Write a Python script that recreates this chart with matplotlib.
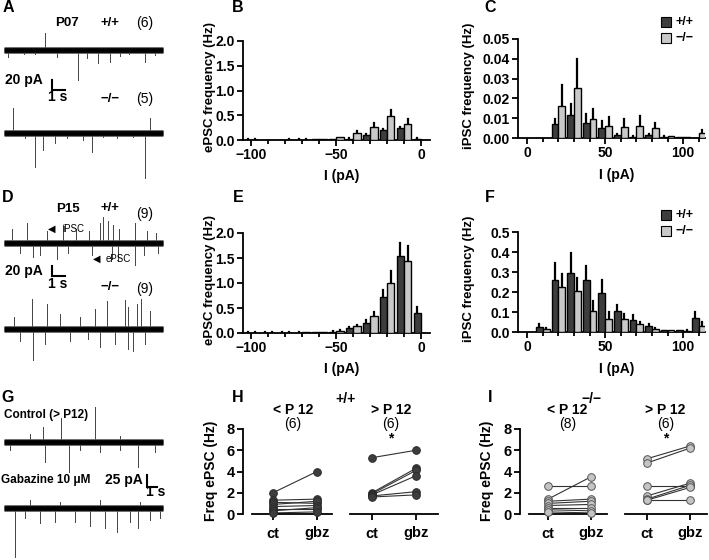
import matplotlib
matplotlib.use("Agg")
import matplotlib.pyplot as plt
from matplotlib.ticker import MultipleLocator

plt.rcParams['font.family'] = ['Liberation Sans', 'DejaVu Sans']
plt.rcParams['font.weight'] = 'bold'
plt.rcParams['axes.linewidth'] = 1.3

# ---------------- data ----------------
# ePSC amplitude bins (pA), +/+ bar at c-2.5, -/- bar at c+2.5
epsc_bins = [-100, -90, -80, -70, -60, -50, -40, -30, -20, -10, 0]
p07_wt = [0.01, 0.005, 0.005, 0.01, 0.015, 0.02, 0.03, 0.10, 0.20, 0.25, 0.03]
p07_wt_top = [0.015, 0.01, 0.01, 0.015, 0.02, 0.025, 0.04, 0.12, 0.23, 0.27, 0.04]
p07_ko = [0.01, 0.005, 0.01, 0.01, 0.02, 0.055, 0.135, 0.27, 0.485, 0.32, 0.0]
p07_ko_top = [0.015, 0.01, 0.015, 0.015, 0.025, 0.07, 0.175, 0.34, 0.60, 0.43, 0.0]

p15_wt = [0.01, 0.01, 0.01, 0.01, 0.02, 0.03, 0.10, 0.21, 0.72, 1.54, 0.40]
p15_wt_top = [0.015, 0.015, 0.015, 0.015, 0.025, 0.04, 0.12, 0.27, 0.87, 1.80, 0.52]
p15_ko = [0.01, 0.01, 0.01, 0.015, 0.025, 0.05, 0.14, 0.34, 1.00, 1.45, 0.0]
p15_ko_top = [0.015, 0.015, 0.015, 0.02, 0.03, 0.065, 0.17, 0.43, 1.25, 1.75, 0.0]

# iPSC amplitude bins (pA)
ipsc_bins = [10, 20, 30, 40, 50, 60, 70, 80, 90, 100, 110]
ip07_wt = [0.0, 0.007, 0.0115, 0.0075, 0.005, 0.0015, 0.0005, 0.0015, 0.0005, 0.0003, 0.0]
ip07_wt_top = [0.0, 0.0098, 0.017, 0.012, 0.0085, 0.002, 0.0008, 0.002, 0.0008, 0.0005, 0.0]
ip07_ko = [0.0, 0.016, 0.0255, 0.0095, 0.006, 0.0055, 0.006, 0.005, 0.0008, 0.0003, 0.0025]
ip07_ko_top = [0.0, 0.027, 0.040, 0.0145, 0.0105, 0.0095, 0.011, 0.0078, 0.0012, 0.0005, 0.004]

ip15_wt = [0.025, 0.262, 0.295, 0.262, 0.195, 0.105, 0.062, 0.032, 0.008, 0.008, 0.068]
ip15_wt_top = [0.038, 0.345, 0.395, 0.332, 0.258, 0.137, 0.083, 0.04, 0.012, 0.012, 0.10]
ip15_ko = [0.015, 0.225, 0.203, 0.107, 0.065, 0.065, 0.04, 0.015, 0.008, 0.006, 0.032]
ip15_ko_top = [0.02, 0.29, 0.27, 0.153, 0.098, 0.09, 0.052, 0.02, 0.01, 0.008, 0.052]

# paired ct / gbz frequencies (Hz)
h_young_ct = [2.0, 1.3, 1.1, 0.9, 0.7, 0.5, 0.3, 0.1]
h_young_gbz = [4.0, 1.4, 1.0, 1.2, 0.8, 0.5, 0.6, 0.2]
h_old_ct = [5.3, 2.0, 1.9, 1.8, 1.7, 1.6]
h_old_gbz = [6.0, 4.3, 4.1, 3.6, 2.1, 1.8]
i_young_ct = [2.6, 1.4, 1.2, 1.0, 0.8, 0.6, 0.4, 0.2]
i_young_gbz = [2.6, 3.5, 1.4, 1.2, 0.9, 0.6, 0.3, 0.1]
i_old_ct = [5.2, 4.8, 2.6, 1.7, 1.4, 1.3, 1.3]
i_old_gbz = [6.4, 6.2, 2.6, 2.9, 2.7, 2.5, 1.3]

# example traces: event times (s) and amplitudes (pA)
a_wt_t = [0.3, 3.15, 4.08, 5.7, 6.4, 7.23, 8.15, 8.92, 10.85, 11.6, 1.5, 2.4, 9.6]
a_wt_amp = [-14, 34, -14, -60, -16, -26, -24, -12, -24, -10, -8, -8, -8]
a_ko_t = [0.69, 2.38, 3.0, 3.92, 6.08, 6.77, 10.85, 11.23, 1.62, 4.85, 8.69, 7.6, 9.9]
a_ko_amp = [50, -68, -34, -20, -14, -38, -90, 30, -10, -10, -10, -8, -8]
d_wt_t = [0.62, 1.77, 3.31, 4.54, 5.54, 6.54, 7.38, 7.62, 8.0, 8.38, 8.85, 10.08, 11.0, 11.69,
          1.23, 2.23, 2.77, 4.08, 4.92, 6.77, 8.31, 8.77, 10.08, 10.77, 11.85]
d_wt_amp = [28, 40, 24, 36, 28, 24, 40, 52, 44, 36, 28, 40, 24, 20,
            -20, -28, -24, -32, -20, -24, -32, -36, -44, -24, -20]
d_ko_t = [0.77, 2.15, 3.31, 4.31, 5.85, 7.0, 7.92, 9.31, 9.54, 10.23, 10.54, 11.23,
          1.23, 2.23, 3.15, 5.08, 6.46, 7.38, 8.54, 9.54, 9.92, 10.85]
d_ko_amp = [24, 60, 50, 30, 24, 40, 56, 58, 44, 50, 60, 36,
            -24, -62, -30, -24, -20, -36, -30, -40, -44, -30]
g_ct_t = [4.2, 6.13, 9.78, 2.8, 12.5, 0.65, 4.41, 6.99, 10.32, 14.41, 16.24, 8.17, 12.47]
g_ct_amp = [30, 48, 70, 16, 12, -16, -40, -60, -20, -50, -20, -16, -16]
g_gbz_t = [1.18, 2.26, 3.87, 5.48, 7.63, 9.25, 10.86, 12.15, 13.55, 14.41, 15.7, 16.77,
           2.8, 6.02, 10.32, 14.62]
g_gbz_amp = [-98, -20, -30, -28, -28, -36, -40, -48, -28, -40, -24, -20,
             16, 12, 16, 12]

W, H = 709, 560
fig = plt.figure(figsize=(7.09, 5.6), dpi=100)
DARK = '#3d3d3d'
LIGHT = '#c9c9c9'


def box(l, t, r, b):
    return fig.add_axes([l / W, 1 - b / H, (r - l) / W, (b - t) / H])


def txt(x, y, s, size=9.5, weight='bold', **kw):
    kw.setdefault('ha', 'center')
    kw.setdefault('va', 'center')
    fig.text(x / W, 1 - y / H, s, fontsize=size, fontweight=weight, **kw)


def style(ax, size=10):
    for s in ['top', 'right']:
        ax.spines[s].set_visible(False)
    ax.tick_params(direction='out', length=4, width=1.3, labelsize=size, pad=2)
    ax.tick_params(which='minor', direction='out', length=3, width=1.3)
    for lab in ax.get_xticklabels() + ax.get_yticklabels():
        lab.set_fontweight('bold')


def bars(ax, bins, wt, wt_top, ko, ko_top):
    xd = [c - 2.2 for c in bins]
    xl = [c + 2.2 for c in bins]
    ax.bar(xd, wt, width=4.3, color=DARK, edgecolor='black', linewidth=1.0, zorder=3)
    ax.bar(xl, ko, width=4.3, color=LIGHT, edgecolor='black', linewidth=1.0, zorder=3)
    for x, v, t in zip(xd, wt, wt_top):
        if t > v:
            ax.plot([x, x], [v, t], color='black', lw=1.6, zorder=2)
    for x, v, t in zip(xl, ko, ko_top):
        if t > v:
            ax.plot([x, x], [v, t], color='black', lw=1.6, zorder=2)


# ---------------- B / E : ePSC histograms ----------------
for top, bot, wt, wtt, ko, kot in [(41, 140, p07_wt, p07_wt_top, p07_ko, p07_ko_top),
                                   (233, 333, p15_wt, p15_wt_top, p15_ko, p15_ko_top)]:
    ax = box(243, top, 430, bot)
    bars(ax, epsc_bins, wt, wtt, ko, kot)
    ax.set_xlim(-105, 5.3)
    ax.set_ylim(0, 2.0)
    ax.set_yticks([0, 0.5, 1.0, 1.5, 2.0])
    ax.set_yticklabels(['0.0', '0.5', '1.0', '1.5', '2.0'])
    ax.set_xticks([-100, -50, 0])
    ax.set_xticklabels(['\u2212100', '\u221250', '0'])
    ax.xaxis.set_minor_locator(MultipleLocator(10))
    style(ax)
    txt(210, (top + bot) / 2 - 3, 'ePSC frequency (Hz)', rotation=90)
    txt(342, bot + 36, 'I (pA)', size=10)

# ---------------- C / F : iPSC histograms ----------------
for top, bot, wt, wtt, ko, kot, ymax, ticks, tl in [
        (39, 138, ip07_wt, ip07_wt_top, ip07_ko, ip07_ko_top, 0.05,
         [0, 0.01, 0.02, 0.03, 0.04, 0.05], ['0.00', '0.01', '0.02', '0.03', '0.04', '0.05']),
        (232, 332, ip15_wt, ip15_wt_top, ip15_ko, ip15_ko_top, 0.5,
         [0, 0.1, 0.2, 0.3, 0.4, 0.5], ['0.0', '0.1', '0.2', '0.3', '0.4', '0.5'])]:
    ax = box(518, top, 705, bot)
    bars(ax, ipsc_bins, wt, wtt, ko, kot)
    ax.set_xlim(-5.9, 114)
    ax.set_ylim(0, ymax)
    ax.set_yticks(ticks)
    ax.set_yticklabels(tl)
    ax.set_xticks([0, 50, 100])
    ax.xaxis.set_minor_locator(MultipleLocator(10))
    style(ax)
    txt(469, (top + bot) / 2 - 3, 'iPSC frequency (Hz)', rotation=90)
    txt(617, bot + 37, 'I (pA)', size=10)
    ly = top - 17
    for k, (col, lab) in enumerate([(DARK, '+/+'), (LIGHT, '\u2212/\u2212')]):
        y = ly + k * 16
        fig.patches.append(plt.Rectangle((661 / W, 1 - (y + 5) / H), 10 / W, 10 / H,
                                         facecolor=col, edgecolor='black', lw=0.8,
                                         transform=fig.transFigure, figure=fig))
        txt(676, y, lab, size=9, ha='left')

# ---------------- H / I : paired plots ----------------
panels = [
    (243, 332, 273, 317, 350, 438, 372, 416, h_young_ct, h_young_gbz, h_old_ct, h_old_gbz,
     '#3d3d3d', '#2a2a2a', 211, '+/+', 346, '(6)', '(6)'),
    (520, 607, 548, 591, 625, 707, 647, 690, i_young_ct, i_young_gbz, i_old_ct, i_old_gbz,
     '#c4c4c4', '#555555', 487, '\u2212/\u2212', 592, '(8)', '(6)'),
]
for (yl, xr1, ct1, gb1, xl2, xr2, ct2, gb2, yct, ygb, oct_, ogb,
     fc, ec, ylx, geno, gx, n1, n2) in panels:
    pxu = gb1 - ct1
    ax1 = box(yl, 429, xr1, 514)
    ax1.set_xlim(-(ct1 - yl) / pxu, 1 + (xr1 - gb1) / pxu)
    ax1.spines['bottom'].set_bounds(-(ct1 - yl - 9) / pxu, 1 + (xr1 - gb1) / pxu)
    ax1.spines['left'].set_bounds(0, 8)
    ax1.set_yticks([0, 2, 4, 6, 8])
    ax2 = box(xl2, 429, xr2, 514)
    ax2.set_xlim(-(ct2 - xl2) / pxu, 1 + (xr2 - gb2) / pxu)
    ax2.spines['left'].set_visible(False)
    ax2.set_yticks([])
    for ax, c, g in [(ax1, yct, ygb), (ax2, oct_, ogb)]:
        for a, b in zip(c, g):
            ax.plot([0, 1], [a, b], color='#333333', lw=0.8, zorder=2)
        ax.plot([0] * len(c), c, 'o', ms=5.5, mfc=fc, mec=ec, mew=0.7, clip_on=False, zorder=3)
        ax.plot([1] * len(g), g, 'o', ms=5.5, mfc=fc, mec=ec, mew=0.7, clip_on=False, zorder=3)
        ax.set_ylim(0, 8)
        ax.set_xticks([0, 1])
        ax.set_xticklabels(['ct', 'gbz'])
        style(ax, size=10.5)
        ax.tick_params(axis='x', pad=5)
    txt(ylx, 471, 'Freq ePSC (Hz)', rotation=90, size=10)
    txt(gx, 399, geno, size=10)
    txt((ct1 + gb1) / 2 - 2, 410, '< P 12', size=10)
    txt((ct1 + gb1) / 2 - 2, 424, n1, size=10, weight='normal')
    txt((ct2 + gb2) / 2 - 3, 410, '> P 12', size=10)
    txt((ct2 + gb2) / 2 - 3, 424, n2, size=10, weight='normal')
    txt((ct2 + gb2) / 2 - 3, 438, '*', size=10)

# ---------------- A / D / G : example traces ----------------


def trace_ax(top, bot, pps):
    ax = box(0, top, 200, bot)
    ax.set_xlim(-4 / pps, 196 / pps)
    ax.set_ylim(-(bot - top) * 2, 0)
    ax.axis('off')
    return ax


def trace(ax, base, tmax, times, amps):
    ax.plot([0, tmax], [base, base], color='black', lw=3.4, solid_capstyle='butt', zorder=3)
    ax.plot([0, tmax], [base, base], color='#555555', lw=4.8, solid_capstyle='butt', zorder=2)
    for t, a in zip(times, amps):
        off = 4 if a > 0 else -4
        ax.plot([t, t], [base + off, base + a], color='#444444', lw=0.7, zorder=1)


def scalebar(ax, x0, y0, amp):
    ax.plot([x0, x0, x0 + 1], [y0 + amp, y0, y0], color='black', lw=1.5,
            solid_joinstyle='miter')


axA = trace_ax(0, 190, 13.0)
trace(axA, -100, 12.2, a_wt_t, a_wt_amp)
trace(axA, -266, 12.2, a_ko_t, a_ko_amp)
scalebar(axA, 3.69, -180, 20)

axD = trace_ax(190, 390, 13.0)
trace(axD, -106, 12.2, d_wt_t, d_wt_amp)
trace(axD, -278, 12.2, d_ko_t, d_ko_amp)
scalebar(axD, 3.69, -172, 20)

axG = trace_ax(390, 560, 9.3)
trace(axG, -104, 17.1, g_ct_t, g_ct_amp)
trace(axG, -236, 17.1, g_gbz_t, g_gbz_amp)
scalebar(axG, 15.4, -194, 25)

txt(67, 23, 'P07', size=9.5)
txt(110, 23, '+/+', size=9.5)
txt(145, 23, '(6)', size=10, weight='normal')
txt(24, 80, '20 pA', size=10)
txt(58, 97, '1 s', size=10)
txt(110, 99, '\u2212/\u2212', size=9.5)
txt(145, 99, '(5)', size=10, weight='normal')

txt(68, 209, 'P15', size=9.5)
txt(110, 208, '+/+', size=9.5)
txt(145, 214, '(9)', size=10, weight='normal')
txt(52, 229, '\u25C0', size=7, weight='normal')
txt(73, 229, 'iPSC', size=7, weight='normal')
txt(97, 259, '\u25C0', size=7, weight='normal')
txt(118, 259, 'ePSC', size=7, weight='normal')
txt(24, 271, '20 pA', size=10)
txt(58, 284, '1 s', size=10)
txt(110, 287, '\u2212/\u2212', size=9.5)
txt(145, 289, '(9)', size=10, weight='normal')

txt(46, 415, 'Control (> P12)', size=8.5)
txt(46, 480, 'Gabazine 10 \u03bcM', size=8.5)
txt(124, 480, '25 pA', size=10)
txt(156, 492, '1 s', size=10)

# panel letters
for lab, x, y in [('A', 8, 8), ('B', 238, 8), ('C', 490, 8),
                  ('D', 8, 197), ('E', 238, 197), ('F', 490, 197),
                  ('G', 8, 398), ('H', 238, 398), ('I', 490, 398)]:
    txt(x, y, lab, size=11.5)

fig.savefig('out.png', dpi=100)
